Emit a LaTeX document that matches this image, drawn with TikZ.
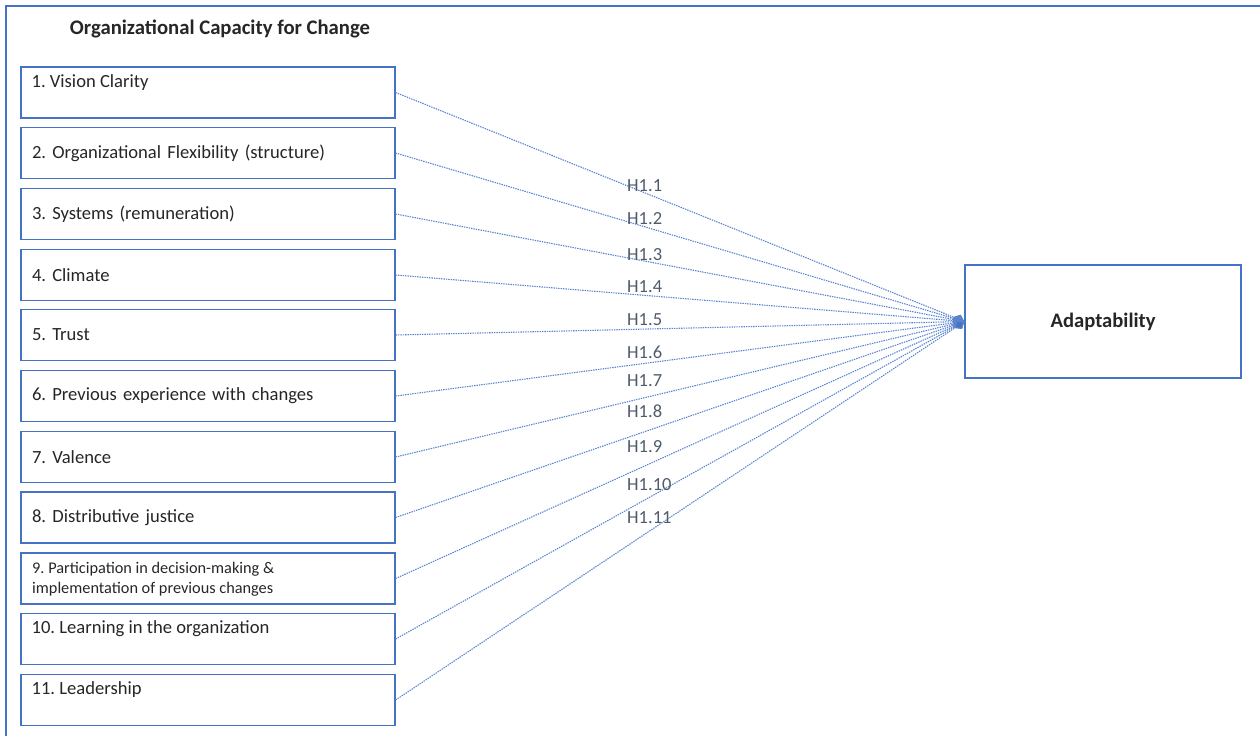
\documentclass[tikz,border=0pt]{standalone}
\usepackage{fontspec}
\setmainfont{Carlito}
\usetikzlibrary{arrows.meta}
\definecolor{bblue}{HTML}{4472C4}
\definecolor{lblue}{HTML}{5B84CF}
\definecolor{hgray}{HTML}{4F5B6B}
\definecolor{tblack}{HTML}{262626}
\tikzset{
  factor/.style={draw=bblue, line width=1.2pt, minimum width=374pt, minimum height=51pt,
    inner xsep=11pt, inner ysep=0pt, text width=352pt, align=left,
    font=\fontsize{18.6pt}{20pt}\selectfont, text=tblack},
  toplab/.style={anchor=base west, inner sep=0pt, xshift=11pt, yshift=-21pt,
    font=\fontsize{18.6pt}{20pt}\selectfont, text=tblack},
  outcome/.style={draw=bblue, line width=1.2pt, minimum width=276pt, minimum height=113pt,
    font=\fontsize{20.6pt}{22pt}\selectfont\bfseries, text=tblack},
  hlab/.style={anchor=west, inner sep=0pt, text=hgray, font=\fontsize{18.5pt}{20pt}\selectfont},
  link/.style={draw=lblue, line width=1.1pt, dash pattern=on 1.4pt off 1pt,
    -{Diamond[length=12pt,width=10pt,fill=bblue]}}
}
\begin{document}
\frenchspacing
\begin{tikzpicture}[x=1pt,y=-1pt]
\useasboundingbox (0,0) rectangle (1260,736);
\draw[bblue, line width=1.3pt] (6,736) -- (6,6) -- (1260,6);
\node[font=\fontsize{20.7pt}{22pt}\selectfont\bfseries, text=tblack] (title) at (220,29) {Organizational Capacity for Change};
\node[factor, label={[toplab]north west:1. Vision Clarity}] (b1) at (208,92.5) {};
\node[factor] (b2) at (208,153) {2. Organizational Flexibility (structure)};
\node[factor] (b3) at (208,214) {3. Systems (remuneration)};
\node[factor] (b4) at (208,275) {4. Climate};
\node[factor] (b5) at (208,335) {5. Trust};
\node[factor] (b6) at (208,396) {6. Previous experience with changes};
\node[factor] (b7) at (208,457) {7. Valence};
\node[factor] (b8) at (208,517.5) {8. Distributive justice};
\node[factor] (b9) at (208,578.5) {};
\node[anchor=base west, inner sep=0pt, font=\fontsize{16.3pt}{20pt}\selectfont, text=tblack] (b9a) at (32,573.5) {9. Participation in decision-making {\char38}};
\node[anchor=base west, inner sep=0pt, font=\fontsize{16.3pt}{20pt}\selectfont, text=tblack] (b9b) at (32,593.5) {implementation of previous changes};
\node[factor, label={[toplab]north west:10. Learning in the organization}] (b10) at (208,639) {};
\node[factor, label={[toplab]north west:11. Leadership}] (b11) at (208,700) {};
\node[outcome] (ad) at (1103,321.5) {Adaptability};
\foreach \i in {1,...,11} { \draw[link] (b\i.east) -- (ad.west); }
\node[hlab] (h1) at (627,186) {H1.1};
\node[hlab] (h2) at (627,219) {H1.2};
\node[hlab] (h3) at (627,255) {H1.3};
\node[hlab] (h4) at (627,287) {H1.4};
\node[hlab] (h5) at (627,320) {H1.5};
\node[hlab] (h6) at (627,352) {H1.6};
\node[hlab] (h7) at (627,381) {H1.7};
\node[hlab] (h8) at (627,411) {H1.8};
\node[hlab] (h9) at (627,447) {H1.9};
\node[hlab] (h10) at (627,485) {H1.10};
\node[hlab] (h11) at (627,518) {H1.11};
\end{tikzpicture}
\end{document}
